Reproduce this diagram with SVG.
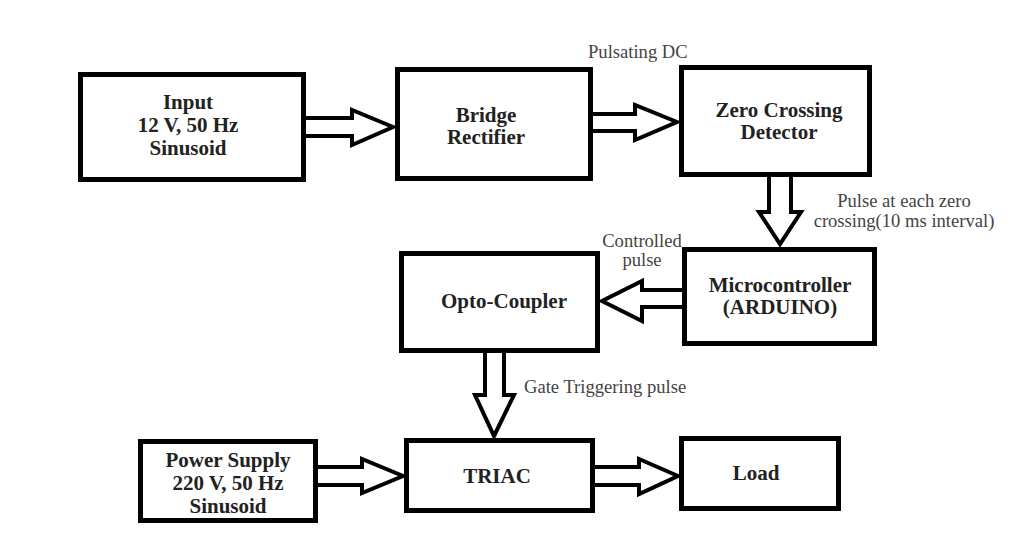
<svg xmlns="http://www.w3.org/2000/svg" width="1018" height="549" viewBox="0 0 1018 549">
<style>
.box{fill:#fff;stroke:#000;stroke-width:5}
.arr{fill:#fff;stroke:#000;stroke-width:4;stroke-linejoin:miter}
.t{font-family:"Liberation Serif","Times New Roman",serif;font-weight:bold;font-size:21px;fill:#222;text-anchor:middle}
.l{font-family:"Liberation Serif","Times New Roman",serif;font-size:18.6px;fill:#444}
</style>
<rect width="1018" height="549" fill="#fff"/>
<g id="connectors">
<polygon class="arr" points="304,118 352,118 352,110 393,127 352,145 352,136 304,136"/>
<polygon class="arr" points="591,114 635,114 635,105 677,122 635,140 635,131 591,131"/>
<polygon class="arr" points="769,173 769,212 759,212 780,244 801,212 791,212 791,173"/>
<polygon class="arr" points="686,290 642,290 642,281 602,301 642,321 642,307 686,307"/>
<polygon class="arr" points="485,349 485,395 475,395 494,436 514,395 504,395 504,349"/>
<polygon class="arr" points="314,467 362,467 362,459 403,476 362,493 362,485 314,485"/>
<polygon class="arr" points="591,467 639,467 639,459 678,476 639,494 639,485 591,485"/>
</g>
<g id="input">
<rect class="box" x="80.5" y="74.5" width="223" height="105"/>
<text class="t" x="188" y="109">Input</text>
<text class="t" x="188" y="132">12 V, 50 Hz</text>
<text class="t" x="188" y="155">Sinusoid</text>
</g>
<g id="bridge">
<rect class="box" x="397.5" y="69.5" width="193" height="109"/>
<text class="t" x="486" y="122">Bridge</text>
<text class="t" x="486" y="144">Rectifier</text>
</g>
<g id="zcd">
<rect class="box" x="681.5" y="67.5" width="188" height="107"/>
<text class="t" x="779" y="117">Zero Crossing</text>
<text class="t" x="779" y="139">Detector</text>
</g>
<g id="micro">
<rect class="box" x="684.5" y="249.5" width="190" height="94"/>
<text class="t" x="780" y="292">Microcontroller</text>
<text class="t" x="780" y="314">(ARDUINO)</text>
</g>
<g id="opto">
<rect class="box" x="401.5" y="253.5" width="196" height="97"/>
<text class="t" x="504" y="308">Opto-Coupler</text>
</g>
<g id="power">
<rect class="box" x="140.5" y="441.5" width="175" height="79"/>
<text class="t" x="228" y="467">Power Supply</text>
<text class="t" x="228" y="490">220 V, 50 Hz</text>
<text class="t" x="228" y="513">Sinusoid</text>
</g>
<g id="triac">
<rect class="box" x="406.5" y="440.5" width="186" height="70"/>
<text class="t" x="497" y="483">TRIAC</text>
</g>
<g id="load">
<rect class="box" x="681.5" y="438.5" width="157" height="70"/>
<text class="t" x="756" y="480">Load</text>
</g>
<g id="labels">
<text class="l" x="588" y="58">Pulsating DC</text>
<text class="l" x="904" y="207" text-anchor="middle">Pulse at each zero</text>
<text class="l" x="904" y="227" text-anchor="middle">crossing(10 ms interval)</text>
<text class="l" x="642" y="247" text-anchor="middle">Controlled</text>
<text class="l" x="642" y="266" text-anchor="middle">pulse</text>
<text class="l" x="524" y="393">Gate Triggering pulse</text>
</g>
</svg>
